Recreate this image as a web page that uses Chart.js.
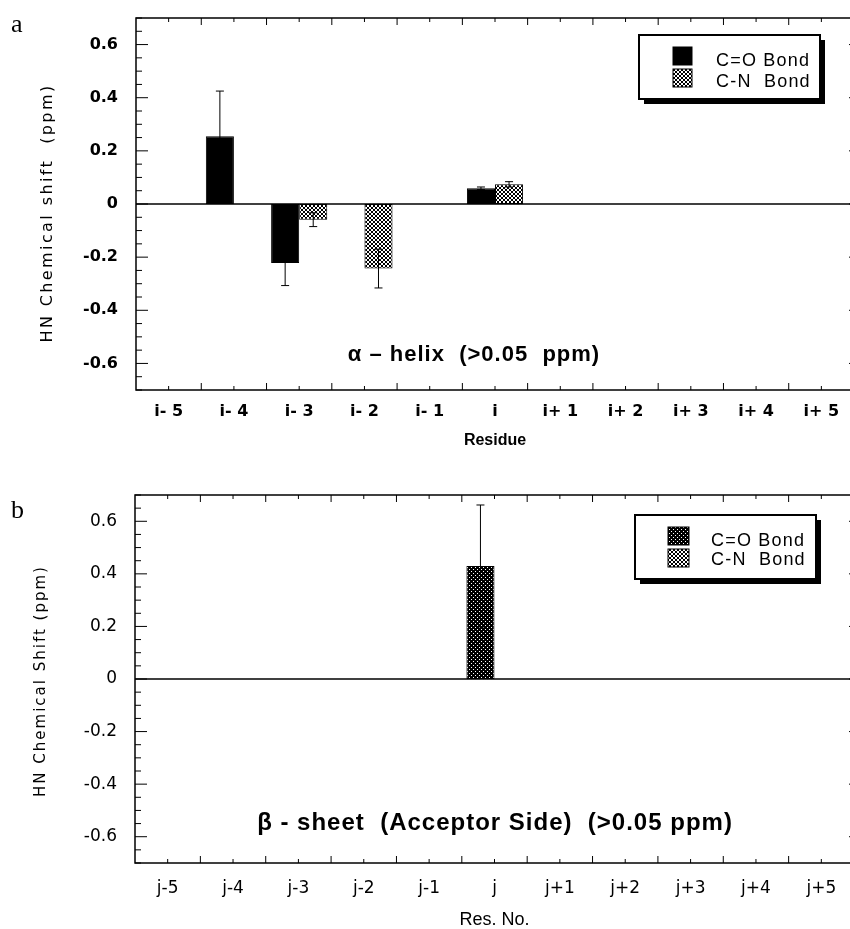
<!DOCTYPE html>
<html>
<head>
<meta charset="utf-8">
<script src="https://cdn.jsdelivr.net/npm/chart.js@4.4.1/dist/chart.umd.min.js"></script>
<style>
html,body{margin:0;padding:0;background:#fff;overflow:hidden;}
.panel{position:absolute;left:0;width:860px;}
#pa{top:0;height:460px;}
#pb{top:460px;height:469px;}
</style>
</head>
<body>
<div class="panel" id="pa"><canvas id="chartA" width="860" height="460"></canvas></div>
<div class="panel" id="pb"><canvas id="chartB" width="860" height="469"></canvas></div>
<script>
// values (ppm)
const resA=['i- 5','i- 4','i- 3','i- 2','i- 1','i','i+ 1','i+ 2','i+ 3','i+ 4','i+ 5'];
const coA=[null,0.255,-0.222,null,null,0.059,null,null,null,null,null];
const coErrA=[null,0.17,0.085,null,null,0.005,null,null,null,null,null];
const cnA=[null,null,-0.059,-0.243,null,0.074,null,null,null,null,null];
const cnErrA=[null,null,0.026,0.073,null,0.01,null,null,null,null,null];

const resB=['j-5','j-4','j-3','j-2','j-1','j','j+1','j+2','j+3','j+4','j+5'];
const coB=[null,null,null,null,null,0.43,null,null,null,null,null];
const coErrB=[null,null,null,null,null,0.232,null,null,null,null,null];
const cnB=[null,null,null,null,null,null,null,null,null,null,null];
const cnErrB=[null,null,null,null,null,null,null,null,null,null,null];

const yTicks=[-0.6,-0.4,-0.2,0,0.2,0.4,0.6];
const yTickText=['-0.6','-0.4','-0.2','0','0.2','0.4','0.6'];
const seriesNames=['C=O Bond','C-N  Bond'];

function pat(ctx,rows){
  const c=document.createElement('canvas');c.width=rows[0].length;c.height=rows.length;
  const g=c.getContext('2d');
  rows.forEach((r,y)=>{for(let x=0;x<r.length;x++){g.fillStyle=r[x]==='1'?'#000':'#fff';g.fillRect(x,y,1,1);}});
  return ctx.createPattern(c,'repeat');
}

function makeFig(f){
  return {
    id:'fig',
    beforeDatasetsDraw(chart){
      const {ctx,chartArea:a,scales:{y}}=chart;
      ctx.save();ctx.strokeStyle='#000';ctx.lineWidth=1.5;
      const z=y.getPixelForValue(0);
      ctx.beginPath();ctx.moveTo(a.left,z);ctx.lineTo(a.right,z);ctx.stroke();
      ctx.restore();
    },
    afterDatasetsDraw(chart){
      const {ctx,chartArea:a,scales:{x,y}}=chart;
      ctx.save();
      ctx.strokeStyle='#000';ctx.lineWidth=1;
      // error bars
      chart.data.datasets.forEach((ds,di)=>{
        const meta=chart.getDatasetMeta(di);
        ds.errors.forEach((e,i)=>{
          if(e==null||ds.data[i]==null)return;
          const el=meta.data[i],v=ds.data[i];
          const y1=y.getPixelForValue(v+e),y2=y.getPixelForValue(v-e);
          ctx.beginPath();
          ctx.moveTo(el.x,y1);ctx.lineTo(el.x,y2);
          ctx.moveTo(el.x-4,y1);ctx.lineTo(el.x+4,y1);
          ctx.moveTo(el.x-4,y2);ctx.lineTo(el.x+4,y2);
          ctx.stroke();
        });
      });
      // frame
      ctx.lineWidth=1.5;
      ctx.strokeRect(a.left,a.top,a.right-a.left,a.bottom-a.top);
      // inward ticks
      ctx.lineWidth=1;ctx.beginPath();
      y.ticks.forEach(t=>{
        const p=y.getPixelForValue(t.value);
        const major=t.label!=='';
        ctx.moveTo(a.left,p);ctx.lineTo(a.left+(major?12:6),p);
        if(major){ctx.moveTo(a.right,p);ctx.lineTo(a.right-5,p);}
      });
      const n=chart.data.labels.length;
      const step=x.getPixelForValue(1)-x.getPixelForValue(0);
      for(let i=0;i<n;i++){
        const c=x.getPixelForValue(i);
        ctx.moveTo(c,a.bottom);ctx.lineTo(c,a.bottom-4);
        ctx.moveTo(c,a.top);ctx.lineTo(c,a.top+4);
        if(i<n-1){
          const b=c+step/2;
          ctx.moveTo(b,a.bottom);ctx.lineTo(b,a.bottom-7);
          ctx.moveTo(b,a.top);ctx.lineTo(b,a.top+7);
        }
      }
      ctx.stroke();
      ctx.restore();
    },
    afterDraw(chart){
      const {ctx}=chart;
      ctx.save();
      ctx.fillStyle='#000';ctx.strokeStyle='#000';
      // panel letter
      ctx.font='26px "Liberation Serif"';ctx.textAlign='left';ctx.textBaseline='alphabetic';
      ctx.fillText(f.letter,11,f.letterY);
      // y title
      ctx.save();
      ctx.translate(f.yt.x,f.yt.y);ctx.rotate(-Math.PI/2);
      ctx.font=f.yt.font;ctx.letterSpacing=f.yt.ls;
      ctx.textAlign='center';ctx.textBaseline='middle';
      ctx.fillText(f.yt.text,0,0);
      ctx.restore();
      // annotation
      ctx.font=f.note.font;ctx.letterSpacing='1px';ctx.textAlign='center';
      ctx.fillText(f.note.text,f.note.x,f.note.y);
      // legend box with drop shadow
      const L=f.legend;
      ctx.fillRect(L.x+5,L.y+5,L.w,L.h);
      ctx.fillStyle='#fff';ctx.fillRect(L.x,L.y,L.w,L.h);
      ctx.lineWidth=2;ctx.strokeRect(L.x,L.y,L.w,L.h);
      ctx.font='18px "Liberation Sans"';ctx.letterSpacing='1.2px';ctx.textAlign='left';
      chart.data.datasets.forEach((ds,i)=>{
        ctx.fillStyle=ds.backgroundColor;
        ctx.fillRect(L.sx,L.sy+i*L.gap,L.sw,L.sh);
        ctx.lineWidth=1;ctx.strokeRect(L.sx,L.sy+i*L.gap,L.sw,L.sh);
        ctx.fillStyle='#000';
        ctx.fillText(ds.label,L.tx,L.ty+i*L.tgap);
      });
      ctx.restore();
    }
  };
}

function yLabel(v){
  const k=yTicks.findIndex(t=>Math.abs(t-v)<1e-6);
  return k<0?'':yTickText[k];
}

function makeChart(id,labels,sets,cfg){
  const ctx=document.getElementById(id).getContext('2d');
  return new Chart(ctx,{
    type:'bar',
    data:{labels,datasets:sets},
    options:{
      responsive:false,animation:false,
      layout:{padding:{top:cfg.top,right:6,left:0,bottom:0}},
      plugins:{legend:{display:false},tooltip:{enabled:false}},
      datasets:{bar:{categoryPercentage:0.86,barPercentage:1}},
      scales:{
        x:{offset:true,grid:{display:false,drawTicks:false},border:{display:false},
          ticks:{font:cfg.xFont,color:'#000',padding:cfg.xPad,maxRotation:0,autoSkip:false},
          title:{display:true,text:cfg.xTitle,font:cfg.xTitleFont,color:'#000',padding:{top:0,bottom:cfg.xTitlePad}},
          afterFit:s=>{s.height=cfg.xH;s.paddingLeft=0;s.paddingRight=0;}},
        y:{min:-0.7,max:0.7,
          grid:{display:false,drawTicks:false},border:{display:false},
          ticks:{stepSize:0.05,autoSkip:false,font:cfg.yFont,color:'#000',padding:18,callback:yLabel},
          afterFit:s=>{s.width=cfg.yW;s.paddingTop=0;s.paddingBottom=0;}}
      }
    },
    plugins:[makeFig(cfg.fig)]
  });
}

const ctxA=document.getElementById('chartA').getContext('2d');
const ctxB=document.getElementById('chartB').getContext('2d');
const hatch=['1001','0110','0110','1001'];

makeChart('chartA',resA,[
  {label:seriesNames[0],data:coA,errors:coErrA,backgroundColor:'#000',borderColor:'#000',borderWidth:1,borderSkipped:false},
  {label:seriesNames[1],data:cnA,errors:cnErrA,backgroundColor:pat(ctxA,hatch),borderColor:'#000',borderWidth:1,borderSkipped:false}
],{
  top:18,yW:136,xH:70,xPad:12,xTitlePad:10,
  xFont:{family:'DejaVu Sans',size:16,weight:'bold',lineHeight:1.2},
  xTitle:'Residue',xTitleFont:{family:'Liberation Sans',size:16,weight:'bold',lineHeight:1.2},
  yFont:{family:'DejaVu Sans',size:16,weight:'bold'},
  fig:{
    letter:'a',letterY:32,
    yt:{text:'HN Chemical shift  (ppm)',x:48,y:213,font:'16px "DejaVu Sans"',ls:'2.4px'},
    note:{text:'\u03b1 \u2013 helix  (>0.05  ppm)',x:474,y:361,font:'bold 22px "Liberation Sans"'},
    legend:{x:639,y:35,w:181,h:64,sx:673,sy:47,sw:19,sh:18,gap:22,tx:716,ty:66,tgap:21}
  }
});

makeChart('chartB',resB,[
  {label:seriesNames[0],data:coB,errors:coErrB,backgroundColor:pat(ctxB,['1111','1011','1111','1110']),borderColor:'#000',borderWidth:1,borderSkipped:false},
  {label:seriesNames[1],data:cnB,errors:cnErrB,backgroundColor:pat(ctxB,hatch),borderColor:'#000',borderWidth:1,borderSkipped:false}
],{
  top:35,yW:135,xH:66,xPad:15,xTitlePad:0,
  xFont:{family:'DejaVu Sans',size:17,lineHeight:1.2},
  xTitle:'Res. No.',xTitleFont:{family:'Liberation Sans',size:18,lineHeight:1},
  yFont:{family:'DejaVu Sans',size:17},
  fig:{
    letter:'b',letterY:58,
    yt:{text:'HN Chemical Shift (ppm)',x:41,y:221,font:'15px "DejaVu Sans"',ls:'2px'},
    note:{text:'\u03b2 - sheet  (Acceptor Side)  (>0.05 ppm)',x:495,y:370,font:'bold 24px "Liberation Sans"'},
    legend:{x:635,y:55,w:181,h:64,sx:668,sy:67,sw:21,sh:18,gap:22,tx:711,ty:86,tgap:19}
  }
});
</script>
</body>
</html>
